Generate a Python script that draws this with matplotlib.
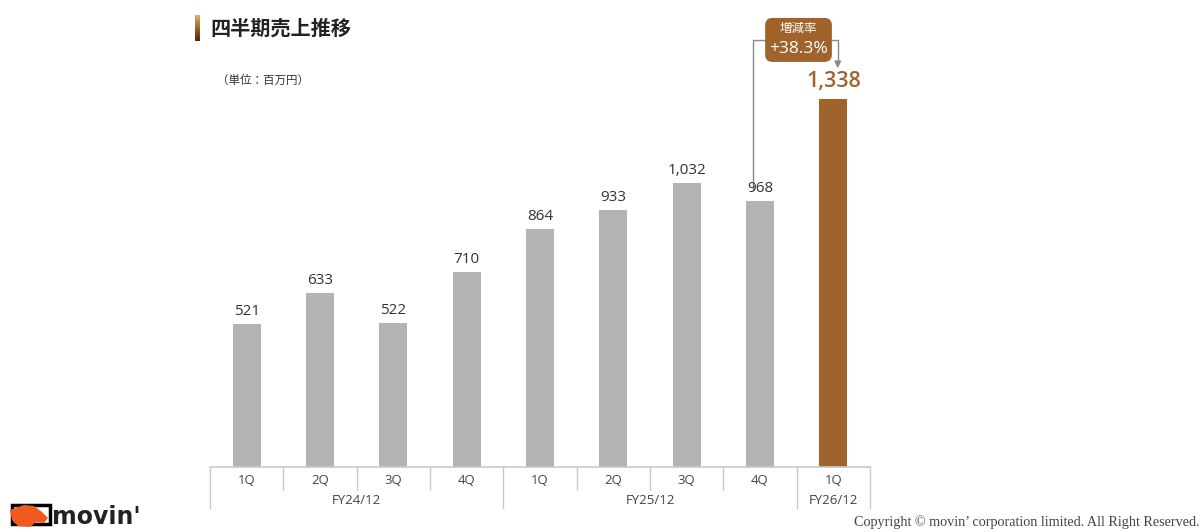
import numpy as np
import matplotlib
matplotlib.use('Agg')
import matplotlib.pyplot as plt
from matplotlib.patches import FancyBboxPatch, Polygon, Rectangle
from matplotlib.transforms import blended_transform_factory
from matplotlib.colors import LinearSegmentedColormap

plt.rcParams['font.family'] = ['Open Sans', 'Noto Sans CJK JP', 'DejaVu Sans']

# data
quarters = ['1Q', '2Q', '3Q', '4Q', '1Q', '2Q', '3Q', '4Q', '1Q']
sales = [521, 633, 522, 710, 864, 933, 1032, 968, 1338]
fy_labels = ['FY24/12', 'FY25/12', 'FY26/12']
fy_spans = [4, 4, 1]
change_title = '増減率'
change_text = '+38.3%'

gray = '#b3b3b3'
brown = '#a0632b'
line_col = '#c9c9c9'

W, H = 1204, 532
fig = plt.figure(figsize=(W / 100, H / 100), dpi=100)
ax = fig.add_axes([210 / W, 65 / H, 660 / W, 462 / H])
x = np.arange(len(sales))
colors = [gray] * (len(sales) - 1) + [brown]
ax.bar(x, sales, width=0.38, color=colors)
ax.set_xlim(-0.5, len(sales) - 0.5)
ax.set_ylim(0, 1680)
ax.axis('off')

# value labels
for i, v in enumerate(sales):
    if i == len(sales) - 1:
        ax.text(i, v + 25, f'{v:,}', ha='center', va='bottom', fontsize=15.5,
                color=brown, fontweight='semibold')
    else:
        ax.text(i, v + 18, f'{v:,}', ha='center', va='bottom', fontsize=11,
                color='#333333')

# category table below the axis
tr = blended_transform_factory(ax.transData, fig.transFigure)
y0 = 65 / H
ax.plot([-0.5, len(sales) - 0.5], [y0, y0], color=line_col, lw=1.2,
        transform=tr, clip_on=False)
bounds = np.cumsum([0] + fy_spans)
for k in range(len(sales) + 1):
    bottom = 24 / H if k in bounds else 42 / H
    ax.plot([k - 0.5, k - 0.5], [y0, bottom], color=line_col, lw=1,
            transform=tr, clip_on=False)
for i, q in enumerate(quarters):
    ax.text(i, 51 / H, q, ha='center', va='center', fontsize=9.5,
            color='#444444', transform=tr)
for j, lab in enumerate(fy_labels):
    c = (bounds[j] + bounds[j + 1] - 1) / 2
    ax.text(c, 31 / H, lab, ha='center', va='center', fontsize=9.5,
            color='#444444', transform=tr)

# growth annotation
n = len(sales)
box_l, box_r = n - 2 + 0.07, n - 1 - 0.02
box_b, box_t = 1473, 1633
asp = (660 / 9) / (462 / 1680)
box = FancyBboxPatch((box_l, box_b), box_r - box_l, box_t - box_b,
                     boxstyle='round,pad=0,rounding_size=0.1',
                     mutation_aspect=asp, fc=brown, ec='none', zorder=3,
                     clip_on=False)
ax.add_patch(box)
ymid = (box_b + box_t) / 2
ax.plot([n - 2 - 0.095, n - 2 - 0.095, box_l], [sales[-2] + 40, ymid, ymid],
        color='#8a8a8a', lw=1, zorder=2, clip_on=False)
ax.plot([box_r, n - 1 + 0.06, n - 1 + 0.06], [ymid, ymid, 1470],
        color='#8a8a8a', lw=1, zorder=2, clip_on=False)
ax.annotate('', xy=(n - 1 + 0.06, 1440), xytext=(n - 1 + 0.06, 1475),
            arrowprops=dict(arrowstyle='-|>', color='#8a8a8a', lw=1,
                            mutation_scale=10), annotation_clip=False)
ax.text((box_l + box_r) / 2, 1594, change_title, ha='center', va='center',
        fontsize=9, color='white', zorder=4)
ax.text((box_l + box_r) / 2, 1520, change_text, ha='center', va='center',
        fontsize=12.5, color='white', zorder=4)

# title with gradient marker
gax = fig.add_axes([195 / W, (532 - 41) / H, 5 / W, 26 / H])
grad = np.linspace(0, 1, 50).reshape(-1, 1)
cm = LinearSegmentedColormap.from_list('g', ['#d9b07a', '#a0632b', '#4a2a10'])
gax.imshow(grad, aspect='auto', cmap=cm)
gax.axis('off')
fig.text(210 / W, (532 - 28) / H, '四半期売上推移', fontsize=14.5,
         fontweight='bold', color='#222222', va='center',
         family='Noto Sans CJK JP')
fig.text(217 / W, (532 - 80) / H, '（単位：百万円）', fontsize=8.3,
         color='#333333', va='center', family='Noto Sans CJK JP')

# logo
lax = fig.add_axes([0, 0, 200 / W, 42 / H])
lax.set_xlim(0, 200)
lax.set_ylim(42, 0)
lax.axis('off')
lax.add_patch(Rectangle((12, 15), 38, 19, fill=False, ec='black', lw=2.5))
lax.add_patch(Polygon([(10, 20), (24, 15), (34, 16), (42, 22), (48, 28),
                       (44, 33), (36, 32), (30, 37), (18, 36), (12, 30)],
                      closed=True, fc='#f05a1e', ec='none'))
lax.text(52, 34, "movin'", fontsize=17, fontweight='bold', color='#222222',
         va='baseline', family='DejaVu Sans')

fig.text(1199 / W, (532 - 522) / H,
         'Copyright © movin\u2019 corporation limited. All Right Reserved.',
         ha='right', va='center', fontsize=10.2, color='#444444',
         family='Liberation Serif')

fig.savefig('out.png', dpi=100)
